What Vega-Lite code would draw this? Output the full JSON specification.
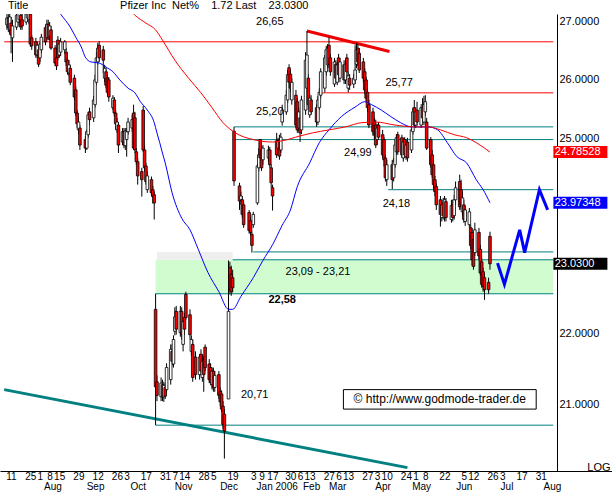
{
"$schema":"https://vega.github.io/schema/vega-lite/v6.json",
"width":612,"height":457,
"autosize":{"type":"none"},
"padding":{"left":0,"top":14,"right":0,"bottom":21},
"background":"#ffffff",
"config":{"view":{"stroke":null},"font":"Liberation Sans","axis":{"labelFont":"Liberation Sans","labelFontSize":11,"labelColor":"#000000","grid":false,"ticks":false}},
"title":{"text":"Title\u00a0\u00a0\u00a0\u00a0\u00a0\u00a0\u00a0\u00a0\u00a0\u00a0\u00a0\u00a0\u00a0\u00a0\u00a0\u00a0\u00a0\u00a0\u00a0\u00a0\u00a0\u00a0\u00a0\u00a0\u00a0\u00a0\u00a0\u00a0\u00a0\u00a0Pfizer Inc\u00a0\u00a0Net%\u00a0\u00a0\u00a0\u00a01.72\u00a0Last\u00a0\u00a0\u00a0\u00a023.0300","anchor":"start","frame":"group","orient":"top","fontSize":11,"fontWeight":"normal","font":"Liberation Sans","color":"#000000","offset":2,"dx":8,"dy":8,"baseline":"alphabetic"},
"datasets":{
"candles":[
{"date":"2005-07-11","open":26.95,"high":27.14,"low":26.86,"close":27.07},
{"date":"2005-07-12","open":27.07,"high":27.14,"low":26.82,"close":26.90},
{"date":"2005-07-13","open":26.86,"high":27.18,"low":26.79,"close":27.09},
{"date":"2005-07-14","open":26.98,"high":27.09,"low":26.45,"close":26.77},
{"date":"2005-07-15","open":26.72,"high":27.04,"low":26.30,"close":26.93},
{"date":"2005-07-18","open":26.91,"high":27.18,"low":26.86,"close":27.12},
{"date":"2005-07-19","open":27.00,"high":27.21,"low":26.93,"close":27.16},
{"date":"2005-07-20","open":27.04,"high":27.25,"low":26.98,"close":27.16},
{"date":"2005-07-21","open":27.12,"high":27.21,"low":26.86,"close":26.91},
{"date":"2005-07-22","open":27.04,"high":27.18,"low":26.86,"close":26.93},
{"date":"2005-07-25","open":27.00,"high":27.25,"low":26.95,"close":27.14},
{"date":"2005-07-26","open":27.07,"high":27.29,"low":27.00,"close":27.18},
{"date":"2005-07-27","open":27.04,"high":27.25,"low":26.96,"close":27.16},
{"date":"2005-07-28","open":27.14,"high":27.21,"low":26.56,"close":26.61},
{"date":"2005-07-29","open":26.72,"high":26.77,"low":26.51,"close":26.58},
{"date":"2005-08-01","open":26.65,"high":26.72,"low":26.37,"close":26.42},
{"date":"2005-08-02","open":26.42,"high":26.65,"low":26.37,"close":26.59},
{"date":"2005-08-03","open":26.51,"high":26.56,"low":26.21,"close":26.26},
{"date":"2005-08-04","open":26.37,"high":26.65,"low":26.30,"close":26.61},
{"date":"2005-08-05","open":26.51,"high":26.79,"low":26.45,"close":26.73},
{"date":"2005-08-08","open":26.90,"high":26.95,"low":26.59,"close":26.65},
{"date":"2005-08-09","open":26.72,"high":27.04,"low":26.68,"close":26.96},
{"date":"2005-08-10","open":26.96,"high":27.04,"low":26.68,"close":26.72},
{"date":"2005-08-11","open":26.75,"high":27.00,"low":26.68,"close":26.93},
{"date":"2005-08-12","open":26.86,"high":26.93,"low":26.51,"close":26.54},
{"date":"2005-08-15","open":26.54,"high":26.59,"low":26.23,"close":26.28},
{"date":"2005-08-16","open":26.37,"high":26.44,"low":26.16,"close":26.23},
{"date":"2005-08-17","open":26.68,"high":26.75,"low":26.33,"close":26.38},
{"date":"2005-08-18","open":26.42,"high":26.68,"low":26.37,"close":26.61},
{"date":"2005-08-19","open":26.47,"high":26.72,"low":26.40,"close":26.65},
{"date":"2005-08-22","open":26.51,"high":26.68,"low":26.44,"close":26.65},
{"date":"2005-08-23","open":26.47,"high":26.54,"low":26.23,"close":26.30},
{"date":"2005-08-24","open":26.33,"high":26.38,"low":26.08,"close":26.13},
{"date":"2005-08-25","open":26.11,"high":26.33,"low":26.06,"close":26.25},
{"date":"2005-08-26","open":26.19,"high":26.25,"low":25.90,"close":25.95},
{"date":"2005-08-29","open":26.02,"high":26.08,"low":25.65,"close":25.70},
{"date":"2005-08-30","open":25.82,"high":25.88,"low":25.38,"close":25.43},
{"date":"2005-08-31","open":25.43,"high":25.48,"low":25.18,"close":25.25},
{"date":"2005-09-01","open":25.15,"high":25.35,"low":25.08,"close":25.28},
{"date":"2005-09-02","open":25.18,"high":25.23,"low":24.82,"close":24.90},
{"date":"2005-09-06","open":24.99,"high":25.05,"low":24.77,"close":24.85},
{"date":"2005-09-07","open":24.85,"high":25.15,"low":24.82,"close":25.12},
{"date":"2005-09-08","open":25.07,"high":25.45,"low":25.02,"close":25.40},
{"date":"2005-09-09","open":25.45,"high":25.52,"low":25.23,"close":25.32},
{"date":"2005-09-12","open":25.35,"high":25.72,"low":25.28,"close":25.65},
{"date":"2005-09-13","open":25.57,"high":26.08,"low":25.52,"close":25.99},
{"date":"2005-09-14","open":25.95,"high":26.47,"low":25.90,"close":26.37},
{"date":"2005-09-15","open":26.30,"high":26.63,"low":26.25,"close":26.54},
{"date":"2005-09-16","open":26.59,"high":26.66,"low":26.30,"close":26.37},
{"date":"2005-09-19","open":26.51,"high":26.58,"low":26.11,"close":26.33},
{"date":"2005-09-20","open":26.02,"high":26.25,"low":25.95,"close":26.19},
{"date":"2005-09-21","open":26.13,"high":26.19,"low":25.85,"close":25.90},
{"date":"2005-09-22","open":26.02,"high":26.08,"low":25.73,"close":25.78},
{"date":"2005-09-23","open":25.99,"high":26.04,"low":25.62,"close":25.70},
{"date":"2005-09-26","open":25.52,"high":25.73,"low":25.48,"close":25.68},
{"date":"2005-09-27","open":25.65,"high":25.70,"low":25.38,"close":25.43},
{"date":"2005-09-28","open":25.43,"high":25.48,"low":25.15,"close":25.25},
{"date":"2005-09-29","open":25.15,"high":25.35,"low":25.10,"close":25.28},
{"date":"2005-09-30","open":25.23,"high":25.28,"low":24.77,"close":24.90},
{"date":"2005-10-03","open":24.95,"high":25.18,"low":24.90,"close":25.12},
{"date":"2005-10-04","open":25.12,"high":25.18,"low":24.85,"close":24.90},
{"date":"2005-10-05","open":24.89,"high":25.18,"low":24.82,"close":25.13},
{"date":"2005-10-06","open":24.99,"high":25.18,"low":24.71,"close":25.12},
{"date":"2005-10-07","open":25.12,"high":25.35,"low":25.07,"close":25.28},
{"date":"2005-10-10","open":25.18,"high":25.40,"low":25.12,"close":25.32},
{"date":"2005-10-11","open":25.43,"high":25.57,"low":24.82,"close":24.85},
{"date":"2005-10-12","open":25.35,"high":25.45,"low":24.77,"close":24.82},
{"date":"2005-10-13","open":24.79,"high":24.85,"low":24.58,"close":24.63},
{"date":"2005-10-14","open":24.63,"high":24.69,"low":24.26,"close":24.40},
{"date":"2005-10-17","open":24.47,"high":24.53,"low":24.07,"close":24.34},
{"date":"2005-10-18","open":25.48,"high":25.55,"low":24.79,"close":24.82},
{"date":"2005-10-19","open":24.82,"high":24.89,"low":24.47,"close":24.53},
{"date":"2005-10-20","open":24.56,"high":24.61,"low":24.26,"close":24.31},
{"date":"2005-10-21","open":24.18,"high":24.47,"low":24.13,"close":24.40},
{"date":"2005-10-24","open":24.34,"high":24.39,"low":24.08,"close":24.13},
{"date":"2005-10-25","open":24.18,"high":24.24,"low":23.96,"close":24.07},
{"date":"2005-10-26","open":24.10,"high":24.15,"low":23.71,"close":23.97},
{"date":"2005-10-27","open":22.35,"high":22.58,"low":20.71,"close":21.24},
{"date":"2005-10-28","open":21.31,"high":21.40,"low":21.04,"close":21.12},
{"date":"2005-10-31","open":21.10,"high":21.37,"low":21.04,"close":21.29},
{"date":"2005-11-01","open":21.27,"high":21.34,"low":21.04,"close":21.10},
{"date":"2005-11-02","open":21.10,"high":21.31,"low":21.03,"close":21.26},
{"date":"2005-11-03","open":21.23,"high":21.29,"low":21.07,"close":21.11},
{"date":"2005-11-04","open":21.20,"high":21.57,"low":21.16,"close":21.51},
{"date":"2005-11-07","open":21.34,"high":21.84,"low":21.27,"close":21.77},
{"date":"2005-11-08","open":21.74,"high":21.84,"low":21.54,"close":21.60},
{"date":"2005-11-09","open":21.56,"high":21.97,"low":21.51,"close":21.91},
{"date":"2005-11-10","open":22.03,"high":22.38,"low":21.97,"close":22.24},
{"date":"2005-11-11","open":22.32,"high":22.40,"low":21.98,"close":22.06},
{"date":"2005-11-14","open":22.01,"high":22.40,"low":21.95,"close":22.32},
{"date":"2005-11-15","open":22.32,"high":22.38,"low":21.91,"close":21.98},
{"date":"2005-11-16","open":21.84,"high":22.23,"low":21.74,"close":22.17},
{"date":"2005-11-17","open":22.23,"high":22.29,"low":21.98,"close":22.06},
{"date":"2005-11-18","open":22.57,"high":22.61,"low":22.20,"close":22.23},
{"date":"2005-11-21","open":22.27,"high":22.35,"low":21.91,"close":21.98},
{"date":"2005-11-22","open":21.74,"high":21.97,"low":21.68,"close":21.91},
{"date":"2005-11-23","open":21.84,"high":21.91,"low":21.31,"close":21.37},
{"date":"2005-11-25","open":21.66,"high":21.74,"low":21.34,"close":21.41},
{"date":"2005-11-28","open":21.41,"high":21.70,"low":21.34,"close":21.66},
{"date":"2005-11-29","open":21.70,"high":21.77,"low":21.40,"close":21.46},
{"date":"2005-11-30","open":21.37,"high":21.70,"low":21.31,"close":21.60},
{"date":"2005-12-01","open":21.63,"high":21.68,"low":21.17,"close":21.41},
{"date":"2005-12-02","open":21.80,"high":21.84,"low":21.46,"close":21.51},
{"date":"2005-12-05","open":21.56,"high":21.63,"low":21.29,"close":21.34},
{"date":"2005-12-06","open":21.51,"high":21.57,"low":21.26,"close":21.30},
{"date":"2005-12-07","open":21.27,"high":21.51,"low":21.20,"close":21.46},
{"date":"2005-12-08","open":21.46,"high":21.51,"low":21.17,"close":21.23},
{"date":"2005-12-09","open":21.23,"high":21.46,"low":21.17,"close":21.40},
{"date":"2005-12-12","open":21.41,"high":21.46,"low":21.07,"close":21.12},
{"date":"2005-12-13","open":21.17,"high":21.23,"low":20.97,"close":21.03},
{"date":"2005-12-14","open":21.14,"high":21.19,"low":20.89,"close":20.93},
{"date":"2005-12-15","open":20.97,"high":21.04,"low":20.66,"close":20.72},
{"date":"2005-12-16","open":20.86,"high":20.93,"low":20.26,"close":20.63},
{"date":"2005-12-19","open":21.07,"high":23.08,"low":21.07,"close":22.32},
{"date":"2005-12-20","open":22.97,"high":23.06,"low":22.57,"close":22.64},
{"date":"2005-12-21","open":22.87,"high":23.00,"low":22.55,"close":22.61},
{"date":"2005-12-22","open":22.82,"high":22.94,"low":22.60,"close":22.67},
{"date":"2005-12-23","open":25.13,"high":25.20,"low":24.24,"close":24.32},
{"date":"2005-12-27","open":24.24,"high":24.29,"low":23.86,"close":24.00},
{"date":"2005-12-28","open":24.02,"high":24.15,"low":23.94,"close":24.08},
{"date":"2005-12-29","open":24.02,"high":24.08,"low":23.74,"close":23.79},
{"date":"2005-12-30","open":23.94,"high":23.99,"low":23.58,"close":23.63},
{"date":"2006-01-03","open":23.82,"high":23.86,"low":23.49,"close":23.54},
{"date":"2006-01-04","open":23.69,"high":23.74,"low":23.46,"close":23.51},
{"date":"2006-01-05","open":23.48,"high":23.52,"low":23.20,"close":23.31},
{"date":"2006-01-06","open":23.63,"high":23.83,"low":23.58,"close":23.79},
{"date":"2006-01-09","open":23.97,"high":24.59,"low":23.94,"close":24.56},
{"date":"2006-01-10","open":24.53,"high":24.85,"low":24.47,"close":24.74},
{"date":"2006-01-11","open":24.99,"high":25.00,"low":24.63,"close":24.69},
{"date":"2006-01-12","open":24.82,"high":24.89,"low":24.48,"close":24.53},
{"date":"2006-01-13","open":24.66,"high":24.90,"low":24.58,"close":24.85},
{"date":"2006-01-17","open":24.69,"high":24.89,"low":24.63,"close":24.82},
{"date":"2006-01-18","open":24.82,"high":24.87,"low":24.53,"close":24.58},
{"date":"2006-01-19","open":24.53,"high":24.59,"low":24.21,"close":24.29},
{"date":"2006-01-20","open":24.21,"high":24.26,"low":23.85,"close":24.08},
{"date":"2006-01-23","open":24.97,"high":25.10,"low":24.69,"close":24.74},
{"date":"2006-01-24","open":24.85,"high":25.02,"low":24.80,"close":24.97},
{"date":"2006-01-25","open":24.99,"high":25.07,"low":24.66,"close":24.72},
{"date":"2006-01-26","open":24.82,"high":25.10,"low":24.77,"close":25.03},
{"date":"2006-01-27","open":25.28,"high":25.57,"low":25.22,"close":25.48},
{"date":"2006-01-30","open":25.45,"high":25.82,"low":25.40,"close":25.73},
{"date":"2006-01-31","open":25.65,"high":26.16,"low":25.60,"close":26.08},
{"date":"2006-02-01","open":26.20,"high":26.26,"low":25.88,"close":25.95},
{"date":"2006-02-02","open":26.09,"high":26.16,"low":25.78,"close":25.85},
{"date":"2006-02-03","open":25.65,"high":26.02,"low":25.57,"close":25.95},
{"date":"2006-02-06","open":25.73,"high":25.82,"low":25.18,"close":25.23},
{"date":"2006-02-07","open":25.62,"high":25.68,"low":25.10,"close":25.15},
{"date":"2006-02-08","open":25.18,"high":25.52,"low":25.13,"close":25.45},
{"date":"2006-02-09","open":25.35,"high":25.42,"low":24.95,"close":25.10},
{"date":"2006-02-10","open":25.15,"high":25.72,"low":25.08,"close":25.65},
{"date":"2006-02-13","open":25.48,"high":26.47,"low":25.40,"close":26.33},
{"date":"2006-02-14","open":25.85,"high":26.84,"low":25.78,"close":26.42},
{"date":"2006-02-15","open":26.02,"high":26.09,"low":25.48,"close":25.57},
{"date":"2006-02-16","open":25.40,"high":25.75,"low":25.35,"close":25.68},
{"date":"2006-02-17","open":25.65,"high":25.73,"low":25.40,"close":25.45},
{"date":"2006-02-21","open":25.52,"high":25.58,"low":25.20,"close":25.28},
{"date":"2006-02-22","open":25.28,"high":25.72,"low":25.23,"close":25.65},
{"date":"2006-02-23","open":25.52,"high":25.85,"low":25.48,"close":25.78},
{"date":"2006-02-24","open":25.73,"high":26.19,"low":25.68,"close":26.13},
{"date":"2006-02-27","open":25.85,"high":26.42,"low":25.78,"close":26.37},
{"date":"2006-02-28","open":26.13,"high":26.58,"low":26.06,"close":26.51},
{"date":"2006-03-01","open":26.25,"high":26.61,"low":26.19,"close":26.54},
{"date":"2006-03-02","open":26.59,"high":26.73,"low":26.19,"close":26.26},
{"date":"2006-03-03","open":26.37,"high":26.44,"low":26.06,"close":26.13},
{"date":"2006-03-06","open":25.92,"high":26.37,"low":25.87,"close":26.30},
{"date":"2006-03-07","open":26.26,"high":26.33,"low":25.95,"close":26.02},
{"date":"2006-03-08","open":25.95,"high":26.30,"low":25.90,"close":26.25},
{"date":"2006-03-09","open":26.37,"high":26.44,"low":26.02,"close":26.08},
{"date":"2006-03-10","open":26.02,"high":26.37,"low":25.95,"close":26.30},
{"date":"2006-03-13","open":26.25,"high":26.33,"low":25.92,"close":25.99},
{"date":"2006-03-14","open":25.99,"high":26.33,"low":25.92,"close":26.26},
{"date":"2006-03-15","open":26.37,"high":26.44,"low":26.06,"close":26.13},
{"date":"2006-03-16","open":25.85,"high":26.13,"low":25.78,"close":26.06},
{"date":"2006-03-17","open":26.02,"high":26.09,"low":25.82,"close":25.90},
{"date":"2006-03-20","open":25.92,"high":26.09,"low":25.85,"close":26.02},
{"date":"2006-03-21","open":25.99,"high":26.59,"low":25.92,"close":26.16},
{"date":"2006-03-22","open":26.26,"high":26.63,"low":26.19,"close":26.51},
{"date":"2006-03-23","open":26.54,"high":26.61,"low":26.23,"close":26.30},
{"date":"2006-03-24","open":26.45,"high":26.54,"low":26.11,"close":26.16},
{"date":"2006-03-27","open":26.30,"high":26.37,"low":25.95,"close":26.02},
{"date":"2006-03-28","open":26.13,"high":26.19,"low":25.75,"close":25.82},
{"date":"2006-03-29","open":25.99,"high":26.04,"low":25.62,"close":25.68},
{"date":"2006-03-30","open":25.78,"high":25.85,"low":25.45,"close":25.52},
{"date":"2006-03-31","open":25.57,"high":25.65,"low":25.18,"close":25.23},
{"date":"2006-04-03","open":25.45,"high":25.52,"low":25.05,"close":25.12},
{"date":"2006-04-04","open":25.28,"high":25.35,"low":24.99,"close":25.07},
{"date":"2006-04-05","open":25.23,"high":25.32,"low":24.85,"close":24.90},
{"date":"2006-04-06","open":24.99,"high":25.25,"low":24.90,"close":25.18},
{"date":"2006-04-07","open":25.23,"high":25.28,"low":24.99,"close":25.03},
{"date":"2006-04-10","open":25.07,"high":25.15,"low":24.69,"close":24.74},
{"date":"2006-04-11","open":24.99,"high":25.03,"low":24.55,"close":24.66},
{"date":"2006-04-12","open":24.69,"high":24.74,"low":24.31,"close":24.37},
{"date":"2006-04-13","open":24.34,"high":24.66,"low":24.24,"close":24.58},
{"date":"2006-04-17","open":24.58,"high":24.66,"low":24.19,"close":24.34},
{"date":"2006-04-18","open":24.37,"high":24.69,"low":24.31,"close":24.63},
{"date":"2006-04-19","open":24.58,"high":24.99,"low":24.53,"close":24.90},
{"date":"2006-04-20","open":24.79,"high":25.08,"low":24.74,"close":25.02},
{"date":"2006-04-21","open":25.07,"high":25.12,"low":24.74,"close":24.79},
{"date":"2006-04-24","open":25.02,"high":25.07,"low":24.69,"close":24.74},
{"date":"2006-04-25","open":24.69,"high":25.02,"low":24.63,"close":24.95},
{"date":"2006-04-26","open":24.99,"high":25.03,"low":24.69,"close":24.74},
{"date":"2006-04-27","open":24.71,"high":24.99,"low":24.66,"close":24.90},
{"date":"2006-04-28","open":24.95,"high":25.02,"low":24.63,"close":24.69},
{"date":"2006-05-01","open":24.82,"high":25.22,"low":24.77,"close":25.15},
{"date":"2006-05-02","open":25.12,"high":25.52,"low":25.07,"close":25.45},
{"date":"2006-05-03","open":25.52,"high":25.65,"low":25.18,"close":25.23},
{"date":"2006-05-04","open":25.23,"high":25.52,"low":25.18,"close":25.45},
{"date":"2006-05-05","open":25.48,"high":25.62,"low":25.22,"close":25.28},
{"date":"2006-05-08","open":25.23,"high":25.58,"low":25.18,"close":25.52},
{"date":"2006-05-09","open":25.52,"high":25.68,"low":25.28,"close":25.35},
{"date":"2006-05-10","open":25.28,"high":25.72,"low":25.23,"close":25.57},
{"date":"2006-05-11","open":25.45,"high":25.73,"low":25.38,"close":25.62},
{"date":"2006-05-12","open":25.28,"high":25.35,"low":24.82,"close":24.85},
{"date":"2006-05-15","open":24.99,"high":25.03,"low":24.53,"close":24.58},
{"date":"2006-05-16","open":24.74,"high":24.82,"low":24.37,"close":24.42},
{"date":"2006-05-17","open":24.58,"high":24.66,"low":24.18,"close":24.26},
{"date":"2006-05-18","open":24.34,"high":24.40,"low":24.08,"close":24.15},
{"date":"2006-05-19","open":24.23,"high":24.28,"low":23.86,"close":23.94},
{"date":"2006-05-22","open":24.02,"high":24.08,"low":23.60,"close":23.79},
{"date":"2006-05-23","open":23.74,"high":24.02,"low":23.68,"close":23.94},
{"date":"2006-05-24","open":23.97,"high":24.05,"low":23.71,"close":23.77},
{"date":"2006-05-25","open":23.74,"high":24.08,"low":23.68,"close":24.02},
{"date":"2006-05-26","open":23.99,"high":24.05,"low":23.68,"close":23.74},
{"date":"2006-05-30","open":23.71,"high":24.02,"low":23.66,"close":23.93},
{"date":"2006-05-31","open":23.94,"high":24.02,"low":23.68,"close":23.74},
{"date":"2006-06-01","open":23.77,"high":24.10,"low":23.71,"close":24.02},
{"date":"2006-06-02","open":24.02,"high":24.31,"low":23.94,"close":24.21},
{"date":"2006-06-05","open":24.31,"high":24.42,"low":23.86,"close":23.91},
{"date":"2006-06-06","open":24.18,"high":24.34,"low":23.86,"close":23.94},
{"date":"2006-06-07","open":23.83,"high":24.15,"low":23.77,"close":24.05},
{"date":"2006-06-08","open":23.94,"high":24.02,"low":23.66,"close":23.71},
{"date":"2006-06-09","open":23.68,"high":23.93,"low":23.61,"close":23.86},
{"date":"2006-06-12","open":23.63,"high":23.89,"low":23.58,"close":23.83},
{"date":"2006-06-13","open":23.58,"high":23.63,"low":23.25,"close":23.31},
{"date":"2006-06-14","open":23.51,"high":23.58,"low":23.00,"close":23.09},
{"date":"2006-06-15","open":23.40,"high":23.46,"low":22.94,"close":22.99},
{"date":"2006-06-16","open":23.20,"high":23.66,"low":23.15,"close":23.55},
{"date":"2006-06-19","open":23.51,"high":23.58,"low":23.09,"close":23.15},
{"date":"2006-06-20","open":23.25,"high":23.32,"low":22.85,"close":22.89},
{"date":"2006-06-21","open":23.06,"high":23.12,"low":22.67,"close":22.72},
{"date":"2006-06-22","open":22.91,"high":22.97,"low":22.61,"close":22.69},
{"date":"2006-06-23","open":22.82,"high":22.88,"low":22.49,"close":22.64},
{"date":"2006-06-26","open":22.75,"high":22.82,"low":22.58,"close":22.64},
{"date":"2006-06-27","open":23.45,"high":23.52,"low":22.94,"close":23.03}
],
"ma50":[
{"date":"2005-08-16","value":27.25},{"date":"2005-08-19","value":27.14},{"date":"2005-08-26","value":26.91},{"date":"2005-08-30","value":26.73},{"date":"2005-09-03","value":26.56},{"date":"2005-09-06","value":26.38},{"date":"2005-09-10","value":26.30},{"date":"2005-09-16","value":26.28},{"date":"2005-09-21","value":26.21},{"date":"2005-09-26","value":26.13},{"date":"2005-10-01","value":25.99},{"date":"2005-10-07","value":25.85},{"date":"2005-10-12","value":25.77},{"date":"2005-10-16","value":25.62},{"date":"2005-10-21","value":25.48},{"date":"2005-10-26","value":25.27},{"date":"2005-10-28","value":25.10},{"date":"2005-10-30","value":24.94},{"date":"2005-11-01","value":24.77},{"date":"2005-11-03","value":24.61},{"date":"2005-11-08","value":24.13},{"date":"2005-11-15","value":23.73},{"date":"2005-11-21","value":23.55},{"date":"2005-11-27","value":23.25},{"date":"2005-12-04","value":22.90},{"date":"2005-12-12","value":22.61},{"date":"2005-12-19","value":22.35},{"date":"2005-12-22","value":22.35},{"date":"2005-12-28","value":22.54},{"date":"2006-01-06","value":22.82},{"date":"2006-01-13","value":23.08},{"date":"2006-01-20","value":23.32},{"date":"2006-01-27","value":23.62},{"date":"2006-02-02","value":23.86},{"date":"2006-02-07","value":24.23},{"date":"2006-02-16","value":24.61},{"date":"2006-02-23","value":24.94},{"date":"2006-03-02","value":25.15},{"date":"2006-03-11","value":25.37},{"date":"2006-03-21","value":25.53},{"date":"2006-03-28","value":25.62},{"date":"2006-04-02","value":25.57},{"date":"2006-04-09","value":25.48},{"date":"2006-04-16","value":25.37},{"date":"2006-04-23","value":25.27},{"date":"2006-05-01","value":25.20},{"date":"2006-05-13","value":25.20},{"date":"2006-05-20","value":25.15},{"date":"2006-05-27","value":24.94},{"date":"2006-06-03","value":24.71},{"date":"2006-06-10","value":24.61},{"date":"2006-06-17","value":24.34},{"date":"2006-06-22","value":24.18},{"date":"2006-06-27","value":23.97348}
],
"ma200":[
{"date":"2005-10-07","value":27.25},{"date":"2005-10-12","value":27.12},{"date":"2005-10-20","value":26.98},{"date":"2005-10-27","value":26.86},{"date":"2005-11-01","value":26.68},{"date":"2005-11-10","value":26.33},{"date":"2005-11-20","value":26.02},{"date":"2005-11-29","value":25.77},{"date":"2005-12-07","value":25.52},{"date":"2005-12-15","value":25.27},{"date":"2005-12-24","value":25.10},{"date":"2006-01-06","value":24.99},{"date":"2006-01-20","value":24.95},{"date":"2006-01-27","value":24.97},{"date":"2006-02-09","value":25.05},{"date":"2006-02-18","value":25.10},{"date":"2006-03-02","value":25.15},{"date":"2006-03-14","value":25.20},{"date":"2006-03-26","value":25.27},{"date":"2006-04-05","value":25.28},{"date":"2006-04-19","value":25.23},{"date":"2006-05-03","value":25.20},{"date":"2006-05-13","value":25.20},{"date":"2006-05-22","value":25.15},{"date":"2006-06-01","value":25.07},{"date":"2006-06-10","value":25.02},{"date":"2006-06-17","value":24.94},{"date":"2006-06-27","value":24.78528}
],
"resistance":[
{"from":"2005-07-09","to":"2006-08-12","level":26.65},
{"from":"2006-02-25","to":"2006-08-12","level":25.77}
],
"support":[
{"from":"2005-12-23","to":"2006-08-12","level":25.20},
{"from":"2005-12-22","to":"2006-08-12","level":24.99},
{"from":"2006-04-14","to":"2006-08-12","level":24.18},
{"from":"2006-01-06","to":"2006-08-12","level":23.21},
{"from":"2005-12-22","to":"2006-08-12","level":23.09},
{"from":"2005-10-27","to":"2006-08-12","level":22.58},
{"from":"2005-10-27","to":"2006-08-12","level":20.71}
],
"zone":[{"from":"2005-10-27","to":"2006-08-12","low":22.58,"high":23.09}],
"band":[{"from":"2005-10-28","to":"2005-12-22","low":23.09,"high":23.21}],
"longTrend":[{"date":"2005-07-09","price":21.20},{"date":"2006-04-28","price":20.14}],
"topTrend":[{"date":"2006-02-14","price":26.84},{"date":"2006-04-15","price":26.48}],
"projection":[
{"date":"2006-07-02T12:00:00Z","price":23.04},{"date":"2006-07-07T12:00:00Z","price":22.72},{"date":"2006-07-18T14:00:00Z","price":23.55},{"date":"2006-07-22T05:00:00Z","price":23.20},{"date":"2006-08-01T22:00:00Z","price":24.18},{"date":"2006-08-07T22:00:00Z","price":23.86}
],
"notes":[
{"date":"2006-01-18","price":27.00,"label":"26,65"},
{"date":"2006-04-22","price":25.94,"label":"25,77"},
{"date":"2006-01-18","price":25.45,"label":"25,20"},
{"date":"2006-03-23","price":24.77,"label":"24,99"},
{"date":"2006-04-20","price":23.96,"label":"24,18"},
{"date":"2006-02-22","price":22.90,"label":"23,09 - 23,21"},
{"date":"2006-01-07","price":21.12,"label":"20,71"}
],
"boldNotes":[{"date":"2006-01-27","price":22.48,"label":"22,58"}],
"watermark":[{"from":"2006-03-12T12:00:00Z","to":"2006-07-30T14:00:00Z","low":20.93,"high":21.20,"mid":"2006-05-21T12:00:00Z","price":21.07,"label":"© http://www.godmode-trader.de"}],
"lastValues":[
{"series":"MA 200","value":24.78528,"label":"24.78528"},
{"series":"MA 50","value":23.97348,"label":"23.97348"},
{"series":"Last","value":23.03,"label":"23.0300"}
]
},
"layer":[
{"data":{"name":"zone"},"mark":{"type":"rect","color":"#d0fcd0"},
 "encoding":{"x":{"field":"from","type":"temporal","scale":{"type":"utc","domain":[{"year":2005,"month":7,"date":9,"hours":13,"minutes":42,"utc":true},{"year":2006,"month":9,"date":20,"hours":1,"utc":true}]},"axis":null},"x2":{"field":"to"},
 "y":{"field":"low","type":"quantitative","scale":{"type":"log","domain":[20.095,27.142],"nice":false},"axis":null},"y2":{"field":"high"}}},
{"data":{"name":"band"},"mark":{"type":"rect","color":"#eeeeee"},
 "encoding":{"x":{"field":"from","type":"temporal","scale":{"type":"utc","domain":[{"year":2005,"month":7,"date":9,"hours":13,"minutes":42,"utc":true},{"year":2006,"month":9,"date":20,"hours":1,"utc":true}]},"axis":null},"x2":{"field":"to"},
 "y":{"field":"low","type":"quantitative","scale":{"type":"log","domain":[20.095,27.142],"nice":false},"axis":null},"y2":{"field":"high"}}},
{"data":{"name":"watermark"},"mark":{"type":"rect","fill":"#ffffff","stroke":"#000000","strokeWidth":1},
 "encoding":{"x":{"field":"from","type":"temporal","scale":{"type":"utc","domain":[{"year":2005,"month":7,"date":9,"hours":13,"minutes":42,"utc":true},{"year":2006,"month":9,"date":20,"hours":1,"utc":true}]},"axis":null},"x2":{"field":"to"},
 "y":{"field":"low","type":"quantitative","scale":{"type":"log","domain":[20.095,27.142],"nice":false},"axis":null},"y2":{"field":"high"}}},
{"data":{"name":"watermark"},"mark":{"type":"text","fontSize":12,"font":"Liberation Sans","color":"#000000","align":"center","baseline":"middle"},
 "encoding":{"x":{"field":"mid","type":"temporal","scale":{"type":"utc","domain":[{"year":2005,"month":7,"date":9,"hours":13,"minutes":42,"utc":true},{"year":2006,"month":9,"date":20,"hours":1,"utc":true}]},"axis":null},
 "y":{"field":"price","type":"quantitative","scale":{"type":"log","domain":[20.095,27.142],"nice":false},"axis":null},"text":{"field":"label"}}},
{"data":{"name":"support"},"mark":{"type":"rule","color":"#008080","strokeWidth":1},
 "encoding":{"x":{"field":"from","type":"temporal","scale":{"type":"utc","domain":[{"year":2005,"month":7,"date":9,"hours":13,"minutes":42,"utc":true},{"year":2006,"month":9,"date":20,"hours":1,"utc":true}]},"axis":null},"x2":{"field":"to"},
 "y":{"field":"level","type":"quantitative","scale":{"type":"log","domain":[20.095,27.142],"nice":false},"axis":null}}},
{"data":{"name":"resistance"},"mark":{"type":"rule","color":"#ff0000","strokeWidth":1},
 "encoding":{"x":{"field":"from","type":"temporal","scale":{"type":"utc","domain":[{"year":2005,"month":7,"date":9,"hours":13,"minutes":42,"utc":true},{"year":2006,"month":9,"date":20,"hours":1,"utc":true}]},"axis":null},"x2":{"field":"to"},
 "y":{"field":"level","type":"quantitative","scale":{"type":"log","domain":[20.095,27.142],"nice":false},"axis":null}}},
{"data":{"name":"longTrend"},"mark":{"type":"line","color":"#008080","strokeWidth":3,"clip":true},
 "encoding":{"x":{"field":"date","type":"temporal","scale":{"type":"utc","domain":[{"year":2005,"month":7,"date":9,"hours":13,"minutes":42,"utc":true},{"year":2006,"month":9,"date":20,"hours":1,"utc":true}]},"axis":null},
 "y":{"field":"price","type":"quantitative","scale":{"type":"log","domain":[20.095,27.142],"nice":false},"axis":null}}},
{"data":{"name":"topTrend"},"mark":{"type":"line","color":"#ee0000","strokeWidth":3,"clip":true},
 "encoding":{"x":{"field":"date","type":"temporal","scale":{"type":"utc","domain":[{"year":2005,"month":7,"date":9,"hours":13,"minutes":42,"utc":true},{"year":2006,"month":9,"date":20,"hours":1,"utc":true}]},"axis":null},
 "y":{"field":"price","type":"quantitative","scale":{"type":"log","domain":[20.095,27.142],"nice":false},"axis":null}}},
{"data":{"name":"candles"},"mark":{"type":"rule","color":"#000000","strokeWidth":1,"clip":true},
 "encoding":{"x":{"field":"date","type":"temporal","scale":{"type":"utc","domain":[{"year":2005,"month":7,"date":9,"hours":13,"minutes":42,"utc":true},{"year":2006,"month":9,"date":20,"hours":1,"utc":true}]},
   "axis":{"orient":"bottom","values":[{"year":2005,"month":7,"date":11,"utc":true},{"year":2005,"month":7,"date":25,"utc":true},{"year":2005,"month":8,"date":1,"utc":true},{"year":2005,"month":8,"date":8,"utc":true},{"year":2005,"month":8,"date":15,"utc":true},{"year":2005,"month":8,"date":29,"utc":true},{"year":2005,"month":9,"date":12,"utc":true},{"year":2005,"month":9,"date":26,"utc":true},{"year":2005,"month":10,"date":3,"utc":true},{"year":2005,"month":10,"date":17,"utc":true},{"year":2005,"month":10,"date":31,"utc":true},{"year":2005,"month":11,"date":7,"utc":true},{"year":2005,"month":11,"date":14,"utc":true},{"year":2005,"month":11,"date":28,"utc":true},{"year":2005,"month":12,"date":5,"utc":true},{"year":2005,"month":12,"date":19,"utc":true},{"year":2006,"month":1,"date":3,"utc":true},{"year":2006,"month":1,"date":9,"utc":true},{"year":2006,"month":1,"date":17,"utc":true},{"year":2006,"month":1,"date":30,"utc":true},{"year":2006,"month":2,"date":6,"utc":true},{"year":2006,"month":2,"date":13,"utc":true},{"year":2006,"month":2,"date":27,"utc":true},{"year":2006,"month":3,"date":6,"utc":true},{"year":2006,"month":3,"date":13,"utc":true},{"year":2006,"month":3,"date":27,"utc":true},{"year":2006,"month":4,"date":3,"utc":true},{"year":2006,"month":4,"date":10,"utc":true},{"year":2006,"month":4,"date":24,"utc":true},{"year":2006,"month":5,"date":1,"utc":true},{"year":2006,"month":5,"date":8,"utc":true},{"year":2006,"month":5,"date":22,"utc":true},{"year":2006,"month":6,"date":5,"utc":true},{"year":2006,"month":6,"date":12,"utc":true},{"year":2006,"month":6,"date":26,"utc":true},{"year":2006,"month":7,"date":3,"utc":true},{"year":2006,"month":7,"date":17,"utc":true},{"year":2006,"month":7,"date":31,"utc":true}],
   "labelExpr":"utcFormat(datum.value, '%-d')","labelAlign":"center","labelOffset":4,"labelFontSize":10,"labelBaseline":"top","labelPadding":0,"labelOverlap":false,"labelFlush":5,"labelBound":false,"ticks":false,"domain":true,"domainColor":"#000000","domainWidth":1,"grid":false,"title":null}},
 "y":{"field":"low","type":"quantitative","scale":{"type":"log","domain":[20.095,27.142],"nice":false},
   "axis":{"orient":"right","offset":-55,"values":[21,22,25,26,27],"format":".4f","labelAlign":"left","labelBaseline":"middle","labelPadding":2,"labelOverlap":false,"labelFlush":false,"domainColor":"#000000","domainWidth":1,"ticks":false,"grid":false,"title":"LOG","titleAngle":0,"titleAlign":"right","titleBaseline":"alphabetic","titleX":53,"titleY":456,"titleFontSize":11,"titleFontWeight":"normal","titleFont":"Liberation Sans","titleColor":"#000000"}},
 "y2":{"field":"high"}}},
{"data":{"name":"candles"},"mark":{"type":"bar","width":2.6,"stroke":"#000000","strokeWidth":0.8,"clip":true},
 "encoding":{"x":{"field":"date","type":"temporal","scale":{"type":"utc","domain":[{"year":2005,"month":7,"date":9,"hours":13,"minutes":42,"utc":true},{"year":2006,"month":9,"date":20,"hours":1,"utc":true}]},"axis":null},
 "y":{"field":"open","type":"quantitative","scale":{"type":"log","domain":[20.095,27.142],"nice":false},"axis":null},"y2":{"field":"close"},
 "fill":{"condition":{"test":"datum.close < datum.open","value":"#ff0000"},"value":"#ffffff"}}},
{"data":{"name":"ma50"},"mark":{"type":"line","color":"#0000ff","strokeWidth":1,"clip":true,"interpolate":"monotone"},
 "encoding":{"x":{"field":"date","type":"temporal","scale":{"type":"utc","domain":[{"year":2005,"month":7,"date":9,"hours":13,"minutes":42,"utc":true},{"year":2006,"month":9,"date":20,"hours":1,"utc":true}]},"axis":null},
 "y":{"field":"value","type":"quantitative","scale":{"type":"log","domain":[20.095,27.142],"nice":false},"axis":null}}},
{"data":{"name":"ma200"},"mark":{"type":"line","color":"#ff0000","strokeWidth":1,"clip":true,"interpolate":"monotone"},
 "encoding":{"x":{"field":"date","type":"temporal","scale":{"type":"utc","domain":[{"year":2005,"month":7,"date":9,"hours":13,"minutes":42,"utc":true},{"year":2006,"month":9,"date":20,"hours":1,"utc":true}]},
   "axis":{"orient":"bottom","values":[{"year":2005,"month":8,"date":13,"utc":true},{"year":2005,"month":9,"date":13,"utc":true},{"year":2005,"month":10,"date":14,"utc":true},{"year":2005,"month":11,"date":16,"utc":true},{"year":2005,"month":12,"date":19,"utc":true},{"year":2006,"month":1,"date":23,"utc":true},{"year":2006,"month":2,"date":17,"utc":true},{"year":2006,"month":3,"date":8,"utc":true},{"year":2006,"month":4,"date":10,"utc":true},{"year":2006,"month":5,"date":8,"utc":true},{"year":2006,"month":6,"date":8,"utc":true},{"year":2006,"month":7,"date":9,"utc":true},{"year":2006,"month":8,"date":11,"utc":true}],
   "labelExpr":"utcFormat(datum.value, '%m') == '01' ? utcFormat(datum.value, '%b %Y') : utcFormat(datum.value, '%b')","labelAlign":"center","labelBaseline":"top","labelFontSize":10,"labelPadding":0,"offset":10,"domain":false,"ticks":false,"labelOverlap":false,"labelFlush":false,"labelBound":false,"grid":false,"title":null}},
 "y":{"field":"value","type":"quantitative","scale":{"type":"log","domain":[20.095,27.142],"nice":false},"axis":null}}},
{"data":{"name":"projection"},"mark":{"type":"line","color":"#0000ff","strokeWidth":3,"clip":true},
 "encoding":{"x":{"field":"date","type":"temporal","scale":{"type":"utc","domain":[{"year":2005,"month":7,"date":9,"hours":13,"minutes":42,"utc":true},{"year":2006,"month":9,"date":20,"hours":1,"utc":true}]},"axis":null},
 "y":{"field":"price","type":"quantitative","scale":{"type":"log","domain":[20.095,27.142],"nice":false},"axis":null}}},
{"data":{"name":"notes"},"mark":{"type":"text","fontSize":11,"font":"Liberation Sans","color":"#000000","align":"center","baseline":"middle"},
 "encoding":{"x":{"field":"date","type":"temporal","scale":{"type":"utc","domain":[{"year":2005,"month":7,"date":9,"hours":13,"minutes":42,"utc":true},{"year":2006,"month":9,"date":20,"hours":1,"utc":true}]},"axis":null},
 "y":{"field":"price","type":"quantitative","scale":{"type":"log","domain":[20.095,27.142],"nice":false},"axis":null},"text":{"field":"label"}}},
{"data":{"name":"boldNotes"},"mark":{"type":"text","fontSize":11,"fontWeight":"bold","font":"Liberation Sans","color":"#000000","align":"center","baseline":"middle"},
 "encoding":{"x":{"field":"date","type":"temporal","scale":{"type":"utc","domain":[{"year":2005,"month":7,"date":9,"hours":13,"minutes":42,"utc":true},{"year":2006,"month":9,"date":20,"hours":1,"utc":true}]},"axis":null},
 "y":{"field":"price","type":"quantitative","scale":{"type":"log","domain":[20.095,27.142],"nice":false},"axis":null},"text":{"field":"label"}}},
{"data":{"name":"lastValues"},"mark":{"type":"point","shape":"M-1,-0.222H1V0.222H-1Z","size":2916,"filled":true,"opacity":1,"strokeWidth":0},
 "encoding":{"x":{"datum":{"year":2006,"month":8,"date":31,"hours":17,"utc":true},"type":"temporal","scale":{"type":"utc","domain":[{"year":2005,"month":7,"date":9,"hours":13,"minutes":42,"utc":true},{"year":2006,"month":9,"date":20,"hours":1,"utc":true}]},"axis":null},
 "y":{"field":"value","type":"quantitative","scale":{"type":"log","domain":[20.095,27.142],"nice":false},"axis":null},
 "color":{"field":"series","type":"nominal","scale":{"domain":["MA 200","MA 50","Last"],"range":["#ff0000","#0000ff","#000000"]},"legend":null}}},
{"data":{"name":"lastValues"},"mark":{"type":"text","fontSize":11,"font":"Liberation Sans","color":"#ffffff","align":"left","baseline":"middle"},
 "encoding":{"x":{"datum":{"year":2006,"month":8,"date":13,"utc":true},"type":"temporal","scale":{"type":"utc","domain":[{"year":2005,"month":7,"date":9,"hours":13,"minutes":42,"utc":true},{"year":2006,"month":9,"date":20,"hours":1,"utc":true}]},"axis":null},
 "y":{"field":"value","type":"quantitative","scale":{"type":"log","domain":[20.095,27.142],"nice":false},"axis":null},"text":{"field":"label"}}}
],
"resolve":{"axis":{"x":"independent","y":"independent"}}
}
